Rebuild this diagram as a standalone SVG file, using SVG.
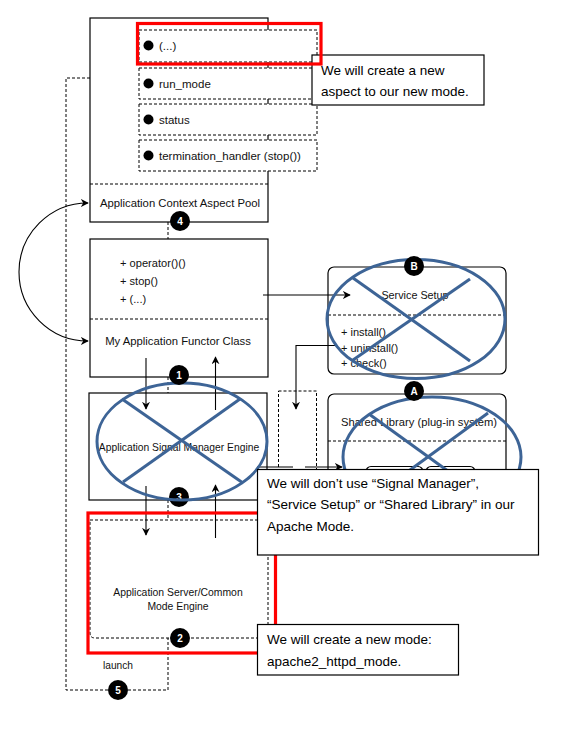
<svg xmlns="http://www.w3.org/2000/svg" width="576" height="755" viewBox="0 0 576 755">
<defs>
<marker id="ah" viewBox="0 0 10 10" refX="9" refY="5" markerWidth="8" markerHeight="8" orient="auto-start-reverse" markerUnits="userSpaceOnUse">
<path d="M0,0 L10,5 L0,10 L3,5 z" fill="#000"/>
</marker>
<style>
.box{fill:#fff;stroke:#000;stroke-width:1.2}
.dbox{fill:#fff;stroke:#000;stroke-width:1;stroke-dasharray:3,2}
.dl{fill:none;stroke:#000;stroke-width:1;stroke-dasharray:3,2}
.ln{fill:none;stroke:#000;stroke-width:1.1}
.t{font-family:"Liberation Sans",Arial,sans-serif;fill:#111}
.c{text-anchor:middle}
.red{fill:none;stroke:#f00;stroke-width:3.2}
.x{fill:none;stroke:#3d6496;stroke-width:3}
.badge circle{fill:#000}
.badge text{font-family:"Liberation Sans",Arial,sans-serif;font-weight:bold;font-size:10px;fill:#fff;text-anchor:middle}
.call{fill:#fff;stroke:#000;stroke-width:1.2}
.ct{font-family:"Liberation Sans",Arial,sans-serif;font-size:13.5px;fill:#000}
</style>
</defs>
<rect width="576" height="755" fill="#fff"/>

<!-- Application Context Aspect Pool -->
<g id="aspect-pool">
<rect class="box" x="90" y="18" width="178" height="204"/>
<line class="dl" x1="90" y1="184" x2="268" y2="184"/>
<text class="t c" x="180" y="207" font-size="11.3">Application Context Aspect Pool</text>
</g>
<g id="aspect-etc">
<rect class="dbox" x="139" y="30" width="178" height="32"/>
<circle cx="148.5" cy="45.5" r="5"/>
<text class="t" x="159" y="49.5" font-size="11.5">(...)</text>
</g>
<g id="aspect-run-mode">
<rect class="dbox" x="139" y="68" width="178" height="31"/>
<circle cx="148.5" cy="83.5" r="5"/>
<text class="t" x="159" y="87.5" font-size="11.5">run_mode</text>
</g>
<g id="aspect-status">
<rect class="dbox" x="139" y="104" width="178" height="31"/>
<circle cx="148.5" cy="119.5" r="5"/>
<text class="t" x="159" y="123.5" font-size="11.5">status</text>
</g>
<g id="aspect-termination">
<rect class="dbox" x="139" y="140" width="178" height="31"/>
<circle cx="148.5" cy="155.5" r="5"/>
<text class="t" x="159" y="159.5" font-size="11.5">termination_handler (stop())</text>
</g>

<!-- Functor class -->
<g id="functor">
<rect class="box" x="90" y="239" width="178" height="138"/>
<line class="dl" x1="90" y1="319" x2="268" y2="319"/>
<text class="t" x="120" y="267" font-size="11.1">+ operator()()</text>
<text class="t" x="120" y="285" font-size="11.1">+ stop()</text>
<text class="t" x="120" y="303" font-size="11.1">+ (...)</text>
<text class="t c" x="178" y="345" font-size="11.3">My Application Functor Class</text>
</g>

<!-- Signal manager -->
<g id="signal-manager">
<rect class="box" x="89" y="393" width="178" height="107"/>
<text class="t c" x="179" y="450.5" font-size="10.3">Application Signal Manager Engine</text>
</g>

<!-- App server -->
<g id="app-server">
<path class="dl" d="M90,520 L268,520 L268,638 L95,638 Q90,638 90,633 Z"/>
<text class="t c" x="178" y="595.5" font-size="10.4">Application Server/Common</text>
<text class="t c" x="178" y="609.5" font-size="10.4">Mode Engine</text>
</g>

<!-- Service Setup -->
<g id="service-setup">
<rect class="box" x="328" y="267" width="178" height="107" rx="6"/>
<line class="dl" x1="328" y1="315" x2="506" y2="315"/>
<text class="t c" x="415" y="299" font-size="10.8">Service Setup</text>
<text class="t" x="341" y="335.5" font-size="11">+ install()</text>
<text class="t" x="341" y="351.5" font-size="11">+ uninstall()</text>
<text class="t" x="341" y="367" font-size="11">+ check()</text>
</g>

<!-- Shared Library -->
<g id="shared-library">
<rect class="box" x="328" y="394" width="178" height="146" rx="6"/>
<line class="dl" x1="328" y1="441" x2="506" y2="441"/>
<text class="t c" x="419" y="425.5" font-size="11.2">Shared Library (plug-in system)</text>
<rect class="box" x="366" y="466.5" width="57" height="24" rx="5"/>
<rect class="box" x="426" y="466.5" width="49" height="24" rx="5"/>
</g>

<g id="small-dashed">
<rect class="dbox" x="278.5" y="391" width="38" height="110"/>
</g>

<!-- connectors -->
<g id="connectors">
<path class="ln" d="M88,203 A69,69 0 0 0 88,341" marker-start="url(#ah)" marker-end="url(#ah)"/>
<path class="dl" d="M90,78 L66,78 L66,690 L108,690"/>
<path class="dl" d="M128,690 L168,690 L168,638"/>
<line class="dl" x1="168" y1="222" x2="168" y2="239"/>
<line class="dl" x1="168" y1="377" x2="168" y2="393"/>
<line class="dl" x1="168" y1="500" x2="168" y2="520"/>
<line class="ln" x1="146" y1="358" x2="146" y2="409" marker-end="url(#ah)"/>
<line class="ln" x1="215.5" y1="410" x2="215.5" y2="357" marker-end="url(#ah)"/>
<line class="ln" x1="146" y1="486" x2="146" y2="535" marker-end="url(#ah)"/>
<line class="ln" x1="215.5" y1="538" x2="215.5" y2="485" marker-end="url(#ah)"/>
<line class="ln" x1="263" y1="295" x2="350" y2="295" marker-end="url(#ah)"/>
<path class="ln" d="M335,345.5 L296,345.5 L296,409" marker-end="url(#ah)"/>
<line class="ln" x1="257" y1="467" x2="293" y2="467"/>
<line class="ln" x1="305" y1="467" x2="342" y2="467" marker-end="url(#ah)"/>
<text class="t c" x="118" y="668.5" font-size="10.2">launch</text>
</g>

<!-- badges -->
<g id="badge-3" class="badge"><circle cx="179" cy="497" r="10"/><text x="179" y="500.5">3</text></g>

<g id="cross-signal">
<ellipse class="x" cx="182" cy="441.5" rx="85" ry="58.5"/>
<line class="x" x1="122" y1="399" x2="243" y2="483"/>
<line class="x" x1="240" y1="399" x2="123" y2="482"/>
</g>
<g id="cross-service">
<ellipse class="x" cx="416" cy="319" rx="89" ry="59.5"/>
<line class="x" x1="353" y1="278" x2="470" y2="361"/>
<line class="x" x1="470" y1="279" x2="353" y2="360"/>
</g>
<g id="cross-shared">
<ellipse class="x" cx="432" cy="457" rx="89" ry="60"/>
<line class="x" x1="369" y1="414" x2="488" y2="500"/>
<line class="x" x1="488" y1="413" x2="369" y2="500"/>
</g>

<g id="badge-4" class="badge"><circle cx="180" cy="221" r="10"/><text x="180" y="224.5">4</text></g>
<g id="badge-1" class="badge"><circle cx="179" cy="375" r="10"/><text x="179" y="378.5">1</text></g>
<g id="badge-2" class="badge"><circle cx="180" cy="638" r="10"/><text x="180" y="641.5">2</text></g>
<g id="badge-5" class="badge"><circle cx="118" cy="690" r="10"/><text x="118" y="693.5">5</text></g>
<g id="badge-B" class="badge"><circle cx="414" cy="266" r="10"/><text x="414" y="269.5">B</text></g>
<g id="badge-A" class="badge"><circle cx="414" cy="391" r="10"/><text x="414" y="394.5">A</text></g>

<!-- red highlight around app server -->
<rect class="red" x="88" y="513" width="187.5" height="140"/>

<!-- callouts -->
<g id="callout-aspect">
<rect class="call" x="312" y="55" width="172" height="50"/>
<text class="ct" x="321" y="75">We will create a new</text>
<text class="ct" x="321" y="96">aspect to our new mode.</text>
</g>
<rect class="red" x="137.5" y="23.5" width="183.5" height="40.5"/>

<g id="callout-signal">
<rect class="call" x="257.5" y="469.5" width="281" height="85.5"/>
<text class="ct" x="267" y="488">We will don’t use “Signal Manager”,</text>
<text class="ct" x="267" y="509">“Service Setup” or “Shared Library” in our</text>
<text class="ct" x="267" y="530.5">Apache Mode.</text>
</g>
<g id="callout-mode">
<rect class="call" x="257.5" y="624.5" width="201" height="50.5"/>
<text class="ct" x="267" y="644">We will create a new mode:</text>
<text class="ct" x="267" y="665.5">apache2_httpd_mode.</text>
</g>
</svg>
